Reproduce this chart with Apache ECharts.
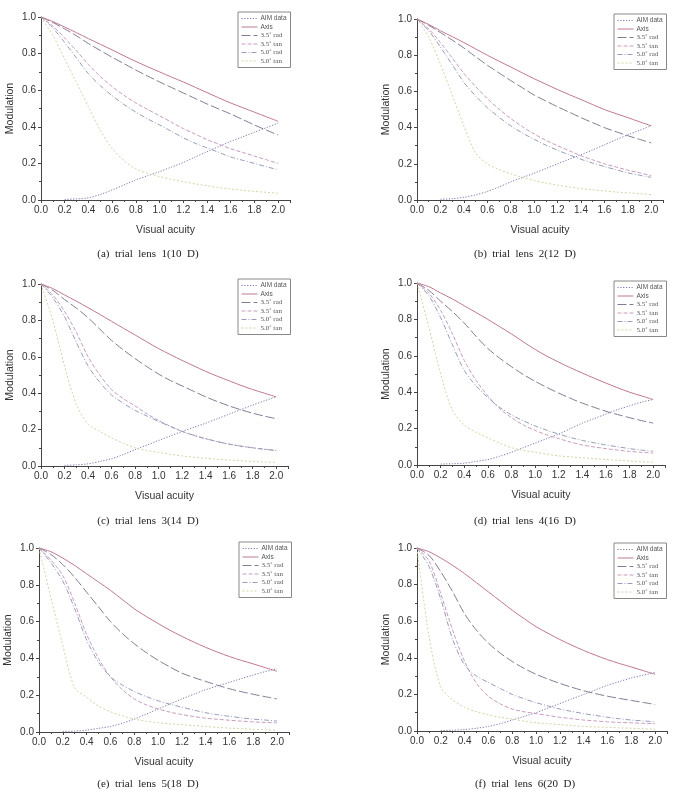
<!DOCTYPE html>
<html>
<head>
<meta charset="utf-8">
<script src="https://cdn.jsdelivr.net/npm/echarts@6/dist/echarts.min.js"></script>
<style>
html,body{margin:0;padding:0;background:#fff;}
#c{width:675px;height:792px;}
</style>
</head>
<body>
<div id="c"></div>
<script>
// Shared x sampling (visual acuity)
const X = [0, 0.1, 0.2, 0.3, 0.4, 0.5, 0.6, 0.7, 0.8, 0.9, 1.0, 1.1, 1.2, 1.3, 1.4, 1.5, 1.6, 1.7, 1.8, 1.9, 2.0];
const seriesNames = ['AIM data', 'Axis', '3.5˚ rad', '3.5˚ tan', '5.0˚ rad', '5.0˚ tan'];
const captions = ['(a)  trial  lens  1(10  D)', '(b)  trial  lens  2(12  D)', '(c)  trial  lens  3(14  D)',
                  '(d)  trial  lens  4(16  D)', '(e)  trial  lens  5(18  D)', '(f)  trial  lens  6(20  D)'];
const xTicks = [0, 0.2, 0.4, 0.6, 0.8, 1.0, 1.2, 1.4, 1.6, 1.8, 2.0];
const yTicks = [0, 0.2, 0.4, 0.6, 0.8, 1.0];

// Rows follow seriesNames order; columns follow X
const lens1 = [
  [null,null,0.003,0.006,0.012,0.03,0.055,0.082,0.11,0.133,0.155,0.18,0.205,0.235,0.264,0.292,0.32,0.345,0.37,0.395,0.42],
  [1,0.975,0.945,0.914,0.882,0.851,0.82,0.788,0.757,0.728,0.70,0.672,0.645,0.616,0.587,0.558,0.53,0.505,0.48,0.455,0.43],
  [1,0.97,0.935,0.897,0.855,0.817,0.78,0.745,0.71,0.677,0.645,0.615,0.585,0.555,0.525,0.497,0.47,0.44,0.41,0.382,0.355],
  [1,0.95,0.885,0.815,0.74,0.675,0.62,0.572,0.53,0.495,0.46,0.425,0.39,0.36,0.33,0.305,0.28,0.26,0.24,0.22,0.20],
  [1,0.94,0.86,0.775,0.69,0.625,0.57,0.522,0.48,0.443,0.41,0.375,0.34,0.31,0.285,0.26,0.235,0.217,0.20,0.182,0.165],
  [1,0.90,0.77,0.64,0.51,0.38,0.28,0.215,0.17,0.145,0.128,0.113,0.10,0.088,0.078,0.068,0.06,0.053,0.047,0.042,0.037]
];
const lens2 = [
  [null,null,0.004,0.007,0.015,0.028,0.047,0.072,0.10,0.124,0.148,0.174,0.20,0.225,0.25,0.277,0.305,0.333,0.36,0.385,0.41],
  [1,0.97,0.935,0.903,0.87,0.835,0.80,0.767,0.735,0.702,0.67,0.64,0.61,0.582,0.555,0.527,0.50,0.477,0.455,0.432,0.41],
  [1,0.965,0.925,0.884,0.84,0.792,0.745,0.702,0.66,0.62,0.58,0.547,0.515,0.485,0.455,0.427,0.40,0.377,0.355,0.335,0.315],
  [1,0.945,0.87,0.785,0.70,0.627,0.56,0.502,0.45,0.405,0.365,0.33,0.30,0.272,0.245,0.222,0.20,0.182,0.165,0.15,0.135],
  [1,0.935,0.845,0.748,0.65,0.575,0.51,0.457,0.41,0.37,0.335,0.303,0.275,0.249,0.225,0.204,0.185,0.167,0.15,0.137,0.125],
  [1,0.90,0.75,0.58,0.41,0.26,0.20,0.168,0.145,0.125,0.108,0.094,0.082,0.072,0.063,0.056,0.05,0.044,0.04,0.035,0.03]
];
const lens3 = [
  [null,null,0.004,0.006,0.012,0.025,0.04,0.063,0.09,0.115,0.14,0.165,0.19,0.213,0.235,0.26,0.285,0.31,0.335,0.358,0.38],
  [1,0.975,0.94,0.906,0.87,0.833,0.795,0.757,0.72,0.682,0.645,0.612,0.58,0.55,0.52,0.493,0.468,0.443,0.42,0.40,0.38],
  [1,0.965,0.915,0.868,0.815,0.752,0.69,0.638,0.59,0.546,0.505,0.47,0.44,0.41,0.38,0.354,0.33,0.309,0.29,0.274,0.26],
  [1,0.94,0.85,0.735,0.60,0.50,0.42,0.37,0.33,0.287,0.25,0.218,0.19,0.168,0.15,0.134,0.12,0.109,0.10,0.092,0.085],
  [1,0.925,0.82,0.68,0.55,0.46,0.39,0.345,0.305,0.275,0.245,0.217,0.19,0.169,0.15,0.134,0.12,0.109,0.10,0.092,0.085],
  [1,0.80,0.55,0.34,0.23,0.19,0.155,0.125,0.10,0.085,0.075,0.065,0.055,0.048,0.042,0.037,0.033,0.029,0.025,0.022,0.02]
];
const lens4 = [
  [null,null,0.005,0.007,0.01,0.02,0.03,0.048,0.07,0.095,0.12,0.145,0.17,0.20,0.23,0.255,0.28,0.305,0.325,0.345,0.36],
  [1,0.98,0.945,0.912,0.875,0.838,0.80,0.76,0.72,0.677,0.635,0.598,0.565,0.534,0.505,0.477,0.45,0.424,0.40,0.38,0.36],
  [1,0.96,0.90,0.843,0.78,0.707,0.64,0.587,0.54,0.497,0.46,0.426,0.395,0.366,0.34,0.317,0.295,0.277,0.26,0.244,0.23],
  [1,0.945,0.85,0.72,0.575,0.465,0.38,0.31,0.26,0.22,0.19,0.165,0.145,0.126,0.11,0.099,0.09,0.082,0.075,0.07,0.065],
  [1,0.93,0.81,0.66,0.52,0.435,0.37,0.317,0.275,0.243,0.215,0.191,0.17,0.151,0.135,0.122,0.11,0.10,0.09,0.082,0.075],
  [1,0.76,0.50,0.30,0.22,0.18,0.15,0.12,0.095,0.08,0.07,0.06,0.05,0.045,0.04,0.035,0.03,0.026,0.022,0.018,0.015]
];
const lens5 = [
  [null,null,0.003,0.005,0.01,0.02,0.03,0.048,0.07,0.097,0.125,0.152,0.18,0.205,0.23,0.25,0.27,0.29,0.31,0.328,0.345],
  [1,0.98,0.945,0.905,0.86,0.815,0.77,0.72,0.67,0.628,0.59,0.553,0.52,0.489,0.46,0.434,0.41,0.389,0.37,0.35,0.33],
  [1,0.965,0.91,0.84,0.76,0.68,0.60,0.535,0.48,0.432,0.39,0.353,0.32,0.296,0.275,0.254,0.235,0.219,0.205,0.192,0.18],
  [1,0.935,0.85,0.70,0.53,0.40,0.30,0.23,0.18,0.148,0.125,0.108,0.095,0.084,0.075,0.069,0.064,0.059,0.055,0.052,0.05],
  [1,0.92,0.82,0.67,0.50,0.38,0.30,0.255,0.22,0.193,0.17,0.151,0.135,0.119,0.105,0.094,0.085,0.077,0.07,0.065,0.06],
  [1,0.73,0.47,0.24,0.19,0.14,0.11,0.088,0.07,0.059,0.05,0.045,0.04,0.035,0.03,0.025,0.021,0.018,0.015,0.012,0.01]
];
const lens6 = [
  [null,null,0.003,0.004,0.008,0.015,0.025,0.04,0.06,0.08,0.10,0.125,0.15,0.175,0.20,0.225,0.25,0.27,0.29,0.305,0.32],
  [1,0.98,0.945,0.905,0.86,0.81,0.76,0.71,0.66,0.614,0.57,0.534,0.50,0.469,0.44,0.414,0.39,0.369,0.35,0.33,0.31],
  [1,0.96,0.87,0.76,0.64,0.55,0.48,0.425,0.38,0.342,0.31,0.284,0.26,0.239,0.22,0.204,0.19,0.178,0.167,0.156,0.145],
  [1,0.93,0.75,0.55,0.38,0.26,0.19,0.148,0.12,0.105,0.095,0.085,0.075,0.067,0.06,0.055,0.05,0.047,0.045,0.042,0.04],
  [1,0.90,0.72,0.50,0.36,0.30,0.265,0.232,0.20,0.176,0.155,0.137,0.12,0.107,0.095,0.085,0.075,0.067,0.06,0.055,0.05],
  [1,0.52,0.24,0.17,0.13,0.105,0.088,0.075,0.065,0.054,0.045,0.04,0.035,0.03,0.025,0.022,0.02,0.017,0.015,0.012,0.01]
];
const lenses = [lens1, lens2, lens3, lens4, lens5, lens6];

// Layout (pixels)
const grids = [
  {left: 41,  top: 17,  width: 249, height: 183},
  {left: 417, top: 19,  width: 246, height: 181},
  {left: 41,  top: 284, width: 247, height: 182},
  {left: 417, top: 283, width: 248, height: 182},
  {left: 39,  top: 548, width: 250, height: 184},
  {left: 417, top: 548, width: 250, height: 183}
];
const legendPos = [
  {left: 238, top: 12}, {left: 614, top: 14}, {left: 238, top: 279},
  {left: 614, top: 281}, {left: 239, top: 542}, {left: 614, top: 543}
];
const captionPos = [[148, 254], [525, 254], [148, 521], [525, 521], [148, 784], [525, 784]];

const styles = [
  {color: '#7c78b0', type: [1.2, 1.6]},
  {color: '#bf7890', type: 'solid'},
  {color: '#857b96', type: [9, 3]},
  {color: '#c99cc0', type: [4, 2]},
  {color: '#979cbc', type: [5, 2, 1, 2]},
  {color: '#d8d0a6', type: [2, 2]}
];

const axisColor = '#444';
const fontSans = '"Liberation Sans", Arial, sans-serif';
const fontSerif = '"Liberation Serif", "Times New Roman", serif';

const option = {
  backgroundColor: '#fff',
  animation: false,
  grid: grids.map(g => Object.assign({containLabel: false}, g)),
  xAxis: grids.map((g, i) => ({
    gridIndex: i, type: 'value', min: 0, max: 2.1, interval: 0.2,
    name: 'Visual acuity', nameLocation: 'middle', nameGap: 25,
    nameTextStyle: {fontFamily: fontSans, fontSize: 10.5, color: '#333'},
    axisLine: {show: true, onZero: false, lineStyle: {color: axisColor, width: 1}},
    axisTick: {show: true, length: 3, lineStyle: {color: axisColor}},
    minorTick: {show: true, splitNumber: 2, length: 2, lineStyle: {color: axisColor}},
    splitLine: {show: false},
    axisLabel: {fontFamily: fontSans, fontSize: 10, color: '#333', margin: 5, showMaxLabel: false,
      formatter: v => (xTicks.some(t => Math.abs(t - v) < 1e-6) ? v.toFixed(1) : '')}
  })),
  yAxis: grids.map((g, i) => ({
    gridIndex: i, type: 'value', min: 0, max: 1, interval: 0.2,
    name: 'Modulation', nameLocation: 'middle', nameGap: 25, nameRotate: 90,
    nameTextStyle: {fontFamily: fontSans, fontSize: 10.5, color: '#333'},
    axisLine: {show: true, onZero: false, lineStyle: {color: axisColor, width: 1}},
    axisTick: {show: true, length: 3, lineStyle: {color: axisColor}},
    minorTick: {show: true, splitNumber: 2, length: 2, lineStyle: {color: axisColor}},
    splitLine: {show: false},
    axisLabel: {fontFamily: fontSans, fontSize: 10, color: '#333', margin: 5,
      formatter: v => (yTicks.some(t => Math.abs(t - v) < 1e-6) ? v.toFixed(1) : '')}
  })),
  legend: legendPos.map(p => ({
    left: p.left, top: p.top, orient: 'vertical',
    data: seriesNames,
    itemWidth: 16, itemHeight: 7, itemGap: 1.5,
    padding: [3, 4, 3, 3],
    borderColor: '#888', borderWidth: 1,
    selectedMode: false,
    itemStyle: {opacity: 0},
    lineStyle: {width: 1},
    textStyle: {fontSize: 6.5, color: '#555', fontFamily: fontSans, padding: [0, 0, 0, -2],
      rich: {s: {fontFamily: fontSerif, fontSize: 7, color: '#555'}, n: {fontFamily: fontSans, fontSize: 6.5, color: '#555'}}},
    formatter: name => (/^\d/.test(name) ? '{s|' + name + '}' : '{n|' + name + '}')
  })),
  series: [],
  graphic: captions.map((c, i) => ({
    type: 'text', x: captionPos[i][0], y: captionPos[i][1],
    style: {text: c, font: '11px ' + fontSerif, fill: '#222', align: 'center', verticalAlign: 'middle'}
  }))
};

lenses.forEach((lens, gi) => {
  lens.forEach((ys, si) => {
    const data = [];
    X.forEach((x, k) => { if (ys[k] !== null) data.push([x, ys[k]]); });
    option.series.push({
      name: seriesNames[si], type: 'line', xAxisIndex: gi, yAxisIndex: gi,
      data: data, showSymbol: false, symbol: 'none', smooth: 0.3,
      lineStyle: {color: styles[si].color, width: 1, type: styles[si].type},
      itemStyle: {color: styles[si].color},
      z: si === 1 ? 3 : 2
    });
  });
});

const chart = echarts.init(document.getElementById('c'), null, {renderer: 'canvas'});
chart.setOption(option);
</script>
</body>
</html>
